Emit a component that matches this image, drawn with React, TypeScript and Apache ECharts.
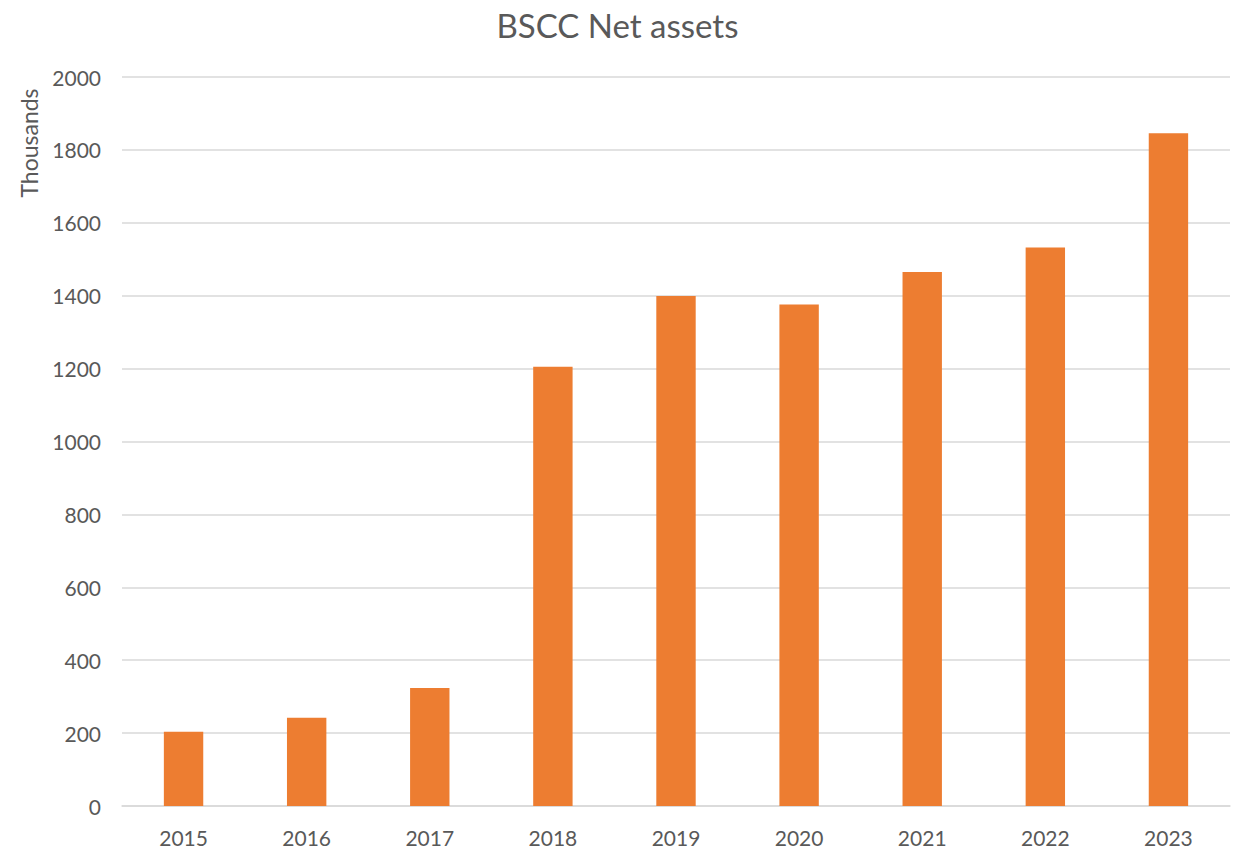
import React, { useEffect, useRef } from "react";
import * as echarts from "echarts";

const categories = ["2015", "2016", "2017", "2018", "2019", "2020", "2021", "2022", "2023"];
const netAssets = [204, 242, 324, 1205, 1399, 1376, 1465, 1532, 1846];
const yTicks = { min: 0, max: 2000, interval: 200 };

const FONT = "Lato, 'Open Sans', sans-serif";

export default function App() {
  const ref = useRef<HTMLDivElement>(null);
  useEffect(() => {
    const chart = echarts.init(ref.current!, null, { renderer: "svg" });
    chart.setOption({
      animation: false,
      textStyle: { fontFamily: FONT },
      title: {
        text: "BSCC Net assets",
        left: "center",
        top: 3,
        textStyle: { fontSize: 33, fontWeight: "normal", color: "#595959", fontFamily: FONT },
      },
      graphic: [
        {
          type: "text",
          x: 29,
          y: 143,
          rotation: Math.PI / 2,
          style: {
            text: "Thousands",
            fill: "#595959",
            font: "23px Lato, 'Open Sans', sans-serif",
            textAlign: "center",
            textVerticalAlign: "middle",
          },
        },
      ],
      grid: { left: 122, right: 5, top: 77, bottom: 43, containLabel: false },
      xAxis: {
        type: "category",
        data: categories,
        axisLine: { lineStyle: { color: "#d9d9d9", width: 1.5 } },
        axisTick: { show: false },
        axisLabel: { color: "#595959", fontSize: 21, margin: 21 },
      },
      yAxis: {
        type: "value",
        min: yTicks.min,
        max: yTicks.max,
        interval: yTicks.interval,
        axisLine: { show: false },
        axisTick: { show: false },
        axisLabel: { color: "#595959", fontSize: 21, margin: 21, formatter: (v: number) => String(v) },
        splitLine: { lineStyle: { color: "#d9d9d9", width: 1.5 } },
      },
      series: [
        {
          type: "bar",
          data: netAssets,
          barCategoryGap: "68%",
          itemStyle: { color: "#ED7D31" },
        },
      ],
    });
    return () => chart.dispose();
  }, []);
  return <div ref={ref} style={{ width: 1235, height: 849, position: "absolute", left: 0, top: 0 }} />;
}
